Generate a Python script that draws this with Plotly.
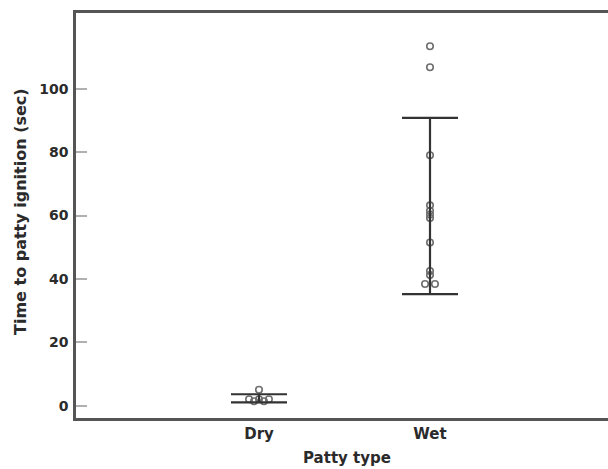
import plotly.graph_objects as go

# Data
categories = ["Dry", "Wet"]
dry_values = [5.0, 2.0, 2.0, 2.0, 1.4, 1.4]
dry_jitter = [0.0, -0.058, 0.0, 0.058, -0.029, 0.029]
wet_values = [113.4, 106.8, 79.0, 63.2, 61.5, 60.3, 59.2, 51.5, 42.5, 41.2, 38.4, 38.4]
wet_jitter = [0, 0, 0, 0, 0, 0, 0, 0, 0, 0, -0.029, 0.029]
bar_center = [2.3, 63.0]
bar_half = [1.3, 27.8]
y_ticks = [0, 20, 40, 60, 80, 100]

FONT = "DejaVu Sans"
fig = go.Figure()

for i, (vals, jit) in enumerate([(dry_values, dry_jitter), (wet_values, wet_jitter)]):
    fig.add_trace(go.Scatter(
        x=[i + j for j in jit], y=vals, mode="markers",
        marker=dict(symbol="circle-open", size=6.5, color="#6f6f6f", line=dict(width=1.6)),
        showlegend=False, hoverinfo="skip"))

fig.add_trace(go.Scatter(
    x=[0, 1], y=bar_center, mode="markers",
    marker=dict(size=0.1, color="rgba(0,0,0,0)"),
    error_y=dict(type="data", array=bar_half, visible=True, color="#333333",
                 thickness=2.2, width=28),
    showlegend=False, hoverinfo="skip"))

# figure is wider than the 608px window; the right part is cropped like the reference
W, H = 622, 469
pl, pt, pw, ph = 76, 13, 544, 405

def paper(px, py):
    return (px - pl) / pw, 1 - (py - pt) / ph

ax, ay = paper(347, 458)
yx, yy = paper(20, 212)

fig.update_layout(
    width=W, height=H,
    margin=dict(l=pl, r=W - pl - pw, t=pt, b=H - pt - ph, autoexpand=False),
    plot_bgcolor="white", paper_bgcolor="white",
    font=dict(family=FONT, color="#2b2b2b"),
    xaxis=dict(range=[-1.070, 2.111], tickvals=[0, 1], ticktext=categories,
               showgrid=False, zeroline=False, showline=True, mirror=True,
               linecolor="#555555", linewidth=2.5, ticks="",
               tickfont=dict(family=FONT, size=15, color="#2b2b2b", weight="bold")),
    yaxis=dict(range=[-3.9, 123.9], tickvals=y_ticks,
               showgrid=False, zeroline=False, showline=True,
               linecolor="#555555", linewidth=2.5,
               ticks="inside", ticklen=11, tickwidth=1.5, tickcolor="#b0b0b0",
               ticklabelstandoff=2,
               tickfont=dict(family=FONT, size=14, color="#2b2b2b", weight="bold")),
    annotations=[
        dict(text="<b>Patty type</b>", x=ax, y=ay, xref="paper", yref="paper",
             xanchor="center", yanchor="middle", showarrow=False,
             font=dict(family=FONT, size=15, color="#2b2b2b")),
        dict(text="<b>Time to patty ignition (sec)</b>", x=yx, y=yy, xref="paper", yref="paper",
             xanchor="center", yanchor="middle", textangle=-90, showarrow=False,
             font=dict(family=FONT, size=16, color="#2b2b2b")),
    ],
)

fig.write_html("out.html", config={"displayModeBar": False},
               post_script="document.body.style.margin='0px';"
                           "document.body.style.background='white';"
                           "document.body.style.overflow='hidden';"
                           "document.documentElement.style.overflow='hidden';")
